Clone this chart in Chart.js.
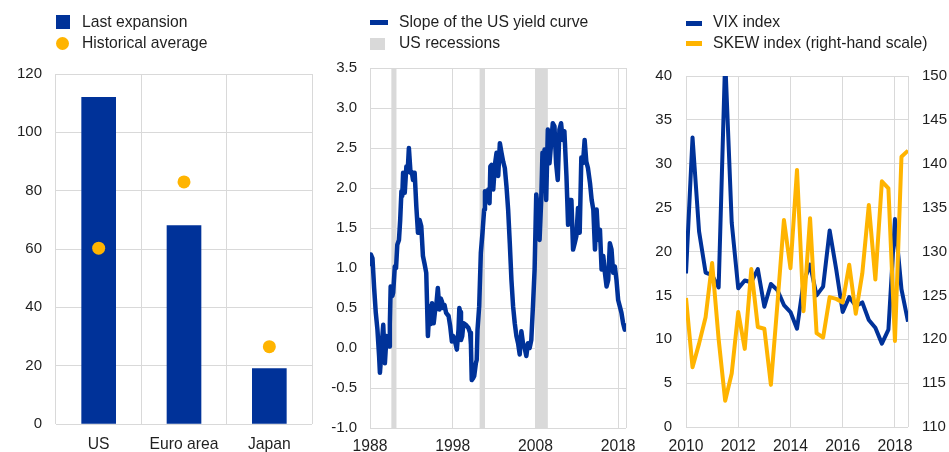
<!DOCTYPE html>
<html>
<head>
<meta charset="utf-8">
<script src="https://cdn.jsdelivr.net/npm/chart.js@4.4.0/dist/chart.umd.min.js"></script>
<style>
body{margin:0;width:949px;height:452px;background:#fff;overflow:hidden;position:relative;font-family:"Liberation Sans",Arial,sans-serif;color:#1f1f1f}
.box{position:absolute;top:0;height:452px}
.lg{position:absolute;font-size:15.7px;line-height:18px;white-space:nowrap}
.sw{position:absolute}
</style>
</head>
<body>
<div class="box" style="left:0;width:320px"><canvas id="c1" width="320" height="452"></canvas></div>
<div class="box" style="left:320px;width:320px"><canvas id="c2" width="320" height="452"></canvas></div>
<div class="box" style="left:640px;width:309px"><canvas id="c3" width="309" height="452"></canvas></div>

<div class="sw" style="left:56px;top:15px;width:14px;height:14px;background:#003299"></div>
<div class="lg" style="left:82px;top:13px">Last expansion</div>
<div class="sw" style="left:56px;top:37px;width:13px;height:13px;border-radius:50%;background:#ffb400"></div>
<div class="lg" style="left:82px;top:34px">Historical average</div>

<div class="sw" style="left:370px;top:20px;width:18px;height:5px;background:#003299"></div>
<div class="lg" style="left:399px;top:13px">Slope of the US yield curve</div>
<div class="sw" style="left:370px;top:38px;width:15px;height:12px;background:#d9d9d9"></div>
<div class="lg" style="left:399px;top:34px">US recessions</div>

<div class="sw" style="left:686px;top:21px;width:16px;height:5px;background:#003299"></div>
<div class="lg" style="left:713px;top:13px">VIX index</div>
<div class="sw" style="left:686px;top:41px;width:16px;height:5px;background:#ffb400"></div>
<div class="lg" style="left:713px;top:34px">SKEW index (right-hand scale)</div>

<script>
// left panel: length of expansions
const regions = ['US', 'Euro area', 'Japan'];
const lastExpansion = [112, 68, 19];
const historicalAvg = [60.3, 83, 26.5];

// middle panel: slope of the US yield curve
const yieldYears = [1988.0, 1988.1, 1988.3, 1988.5, 1988.7, 1988.9, 1989.1, 1989.2, 1989.35, 1989.5,
  1989.6, 1989.7, 1989.8, 1990.0, 1990.15, 1990.3, 1990.4, 1990.5, 1990.7, 1990.8,
  1991.0, 1991.15, 1991.3, 1991.5, 1991.65, 1991.8, 1991.9, 1992.0, 1992.2, 1992.4,
  1992.55, 1992.7, 1992.9, 1993.05, 1993.2, 1993.4, 1993.6, 1993.8, 1994.0, 1994.2,
  1994.4, 1994.6, 1994.8, 1995.0, 1995.2, 1995.35, 1995.5, 1995.7, 1995.85, 1996.0,
  1996.2, 1996.4, 1996.55, 1996.7, 1996.85, 1997.0, 1997.2, 1997.5, 1997.7, 1997.9,
  1998.05, 1998.2, 1998.35, 1998.5, 1998.7, 1998.8, 1998.9, 1999.0, 1999.15, 1999.3,
  1999.6, 1999.9, 2000.1, 2000.2, 2000.3, 2000.45, 2000.6, 2000.8, 2000.9, 2001.0,
  2001.2, 2001.4, 2001.6, 2001.8, 2001.9, 2002.05, 2002.2, 2002.3, 2002.45, 2002.55,
  2002.7, 2002.9, 2003.1, 2003.3, 2003.5, 2003.7, 2003.9, 2004.1, 2004.3, 2004.5,
  2004.7, 2004.9, 2005.1, 2005.3, 2005.5, 2005.7, 2005.9, 2006.1, 2006.3, 2006.5,
  2006.7, 2006.9, 2007.1, 2007.3, 2007.5, 2007.7, 2007.9, 2008.1, 2008.3, 2008.5,
  2008.7, 2008.85, 2009.0, 2009.1, 2009.3, 2009.5, 2009.7, 2009.9, 2010.1, 2010.3,
  2010.5, 2010.7, 2010.9, 2011.1, 2011.3, 2011.5, 2011.75, 2011.95, 2012.15, 2012.35,
  2012.55, 2012.75, 2012.95, 2013.15, 2013.35, 2013.55, 2013.75, 2013.95, 2014.15, 2014.35,
  2014.6, 2014.8, 2015.0, 2015.2, 2015.4, 2015.6, 2015.8, 2016.0, 2016.2, 2016.4,
  2016.6, 2016.8, 2017.0, 2017.2, 2017.4, 2017.6, 2017.8, 2018.0, 2018.2, 2018.4,
  2018.6, 2018.8, 2018.95];
const yieldSlope = [1.05, 1.17, 1.12, 0.75, 0.44, 0.23, -0.1, -0.31, -0.1, 0.15,
  0.29, 0.05, -0.19, 0.15, 0.1, 0.02, 0.3, 0.77, 0.65, 0.69,
  1.02, 1.0, 1.29, 1.35, 1.6, 1.96, 1.9, 2.19, 1.94, 2.27,
  2.2, 2.5, 2.19, 2.2, 2.1, 2.19, 1.77, 1.44, 1.6, 1.52,
  1.15, 1.05, 0.94, 0.15, 0.52, 0.3, 0.56, 0.31, 0.45, 0.52,
  0.75, 0.48, 0.62, 0.58, 0.5, 0.54, 0.44, 0.4, 0.27, 0.08,
  0.15, 0.12, 0.05, -0.02, 0.23, 0.5, 0.45, 0.1, 0.15, 0.31,
  0.29, 0.25, 0.19, 0.05, -0.4, -0.38, -0.35, -0.19, -0.15, 0.23,
  0.52, 1.19, 1.44, 1.73, 1.96, 1.95, 1.85, 1.98, 1.81, 2.27,
  2.29, 1.98, 2.29, 2.44, 2.15, 2.56, 2.44, 2.33, 2.25, 2.02,
  1.73, 1.31, 0.85, 0.52, 0.31, 0.15, 0.06, -0.08, 0.21, 0.06,
  0.0, -0.1, 0.06, 0.0, 0.1, 0.52, 0.98, 1.92, 1.73, 1.35,
  1.85, 2.44, 2.15, 2.48, 1.85, 2.73, 2.31, 2.56, 2.81, 2.77,
  2.31, 2.1, 2.73, 2.81, 2.6, 2.71, 2.15, 1.54, 1.85, 1.85,
  1.23, 1.31, 1.4, 1.75, 1.44, 2.38, 2.31, 2.6, 2.33, 2.25,
  2.06, 1.85, 1.73, 1.23, 1.73, 1.35, 1.48, 0.98, 1.15, 0.94,
  0.77, 0.85, 1.31, 1.23, 0.94, 1.02, 0.85, 0.6, 0.52, 0.44,
  0.31, 0.23, 0.28];
const recStart = [1990.58, 2001.25, 2008.0];
const recEnd = [1991.2, 2001.9, 2009.5];
const yieldTicks = [1988, 1998, 2008, 2018];

// right panel: VIX and SKEW, quarterly
const volDates = [2010, 2010.25, 2010.5, 2010.75, 2011, 2011.25, 2011.5, 2011.75,
  2012, 2012.25, 2012.5, 2012.75, 2013, 2013.25, 2013.5, 2013.75,
  2014, 2014.25, 2014.5, 2014.75, 2015, 2015.25, 2015.5, 2015.75,
  2016, 2016.25, 2016.5, 2016.75, 2017, 2017.25, 2017.5, 2017.75,
  2018, 2018.25, 2018.5];
const vix = [17.5, 33, 22.3, 17.6, 17.3, 15.9, 42, 23.3,
  15.8, 16.7, 16.5, 18.0, 13.7, 16.3, 15.6, 13.9,
  13.1, 11.2, 16.5, 18.5, 15.0, 16.0, 22.4, 18.0,
  13.1, 14.8, 13.8, 14.2, 12.2, 11.3, 9.5, 11.1,
  23.7, 15.7, 12.0];
const skew = [124.7, 116.8, 119.5, 122.5, 128.7, 120, 113, 116.1,
  123.1, 118.9, 128.0, 121.4, 121.2, 114.8, 124, 133.6,
  128.1, 139.3, 123.2, 133.8, 120.7, 120.2, 124.8, 124.6,
  124.2, 128.5, 122.9, 127.5, 135.3, 126.8, 138.0, 137.2,
  119.8, 140.8, 141.5];
const volTicks = [2010, 2012, 2014, 2016, 2018];

const blue = '#003299';
const yellow = '#ffb400';
const gridCol = '#d9d9d9';

Chart.defaults.font.family = '"Liberation Sans", Arial, sans-serif';
Chart.defaults.font.size = 15;
Chart.defaults.color = '#1f1f1f';
Chart.defaults.animation = false;
Chart.defaults.plugins.legend.display = false;
Chart.defaults.plugins.tooltip.enabled = false;

const grid = { color: gridCol, lineWidth: 1, drawTicks: false };

function toPoints(xs, ys) {
    return xs.map((x, i) => ({ x: x, y: ys[i] }));
}

// panel 1
new Chart(document.getElementById('c1'), {
    type: 'bar',
    data: {
        labels: regions,
        datasets: [{
            type: 'line',
            data: historicalAvg,
            showLine: false,
            pointRadius: 6.5,
            pointBackgroundColor: yellow,
            pointBorderWidth: 0,
            order: 0
        }, {
            data: lastExpansion,
            backgroundColor: blue,
            barThickness: 34,
            order: 1
        }]
    },
    options: {
        responsive: false,
        layout: { padding: { top: 74, right: 8, left: 0, bottom: 0 } },
        scales: {
            x: {
                grid: grid,
                border: { display: false },
                ticks: { padding: 11, font: { size: 15.7 } },
                afterFit: s => { s.height = 28; }
            },
            y: {
                min: 0, max: 120,
                grid: grid,
                border: { display: false },
                ticks: { stepSize: 20, padding: 14 },
                afterFit: s => { s.width = 56; }
            }
        }
    }
});

// recession shading
const recessionBands = {
    id: 'recessionBands',
    beforeDatasetsDraw(chart) {
        const x = chart.scales.x;
        const area = chart.chartArea;
        const ctx = chart.ctx;
        ctx.save();
        ctx.fillStyle = gridCol;
        recStart.forEach((s, i) => {
            const x0 = x.getPixelForValue(s);
            const x1 = x.getPixelForValue(recEnd[i]);
            ctx.fillRect(x0, area.top, x1 - x0, area.bottom - area.top);
        });
        ctx.restore();
    }
};

// panel 2
new Chart(document.getElementById('c2'), {
    type: 'line',
    data: {
        datasets: [{
            data: toPoints(yieldYears, yieldSlope),
            borderColor: blue,
            borderWidth: 4.5,
            pointRadius: 0,
            borderJoinStyle: 'round',
            borderCapStyle: 'round',
            tension: 0
        }]
    },
    plugins: [recessionBands],
    options: {
        responsive: false,
        layout: { padding: { top: 68, right: 14, left: 0, bottom: 0 } },
        scales: {
            x: {
                type: 'linear',
                min: 1988, max: 2018.95,
                grid: grid,
                border: { display: false },
                afterBuildTicks: s => {
                    s.ticks = yieldTicks.concat([2018.95]).map(v => ({ value: v }));
                },
                ticks: {
                    padding: 9,
                    font: { size: 15.7 },
                    callback: v => yieldTicks.includes(v) ? String(v) : ''
                },
                afterFit: s => { s.height = 24; }
            },
            y: {
                min: -1, max: 3.5,
                grid: grid,
                border: { display: false },
                ticks: { stepSize: 0.5, padding: 13, callback: v => v.toFixed(1) },
                afterFit: s => { s.width = 50; }
            }
        }
    }
});

// panel 3
new Chart(document.getElementById('c3'), {
    type: 'line',
    data: {
        datasets: [{
            data: toPoints(volDates, skew),
            yAxisID: 'y2',
            borderColor: yellow,
            borderWidth: 4,
            pointRadius: 0,
            borderJoinStyle: 'round',
            tension: 0
        }, {
            data: toPoints(volDates, vix),
            yAxisID: 'y',
            borderColor: blue,
            borderWidth: 4,
            pointRadius: 0,
            borderJoinStyle: 'round',
            tension: 0
        }]
    },
    options: {
        responsive: false,
        layout: { padding: { top: 76, right: 0, left: 0, bottom: 0 } },
        scales: {
            x: {
                type: 'linear',
                min: 2010, max: 2018.5,
                grid: grid,
                border: { display: false },
                afterBuildTicks: s => {
                    s.ticks = volTicks.concat([2018.5]).map(v => ({ value: v }));
                },
                ticks: {
                    padding: 10,
                    font: { size: 15.7 },
                    callback: v => volTicks.includes(v) ? String(v) : ''
                },
                afterFit: s => { s.height = 25; }
            },
            y: {
                position: 'left',
                min: 0, max: 40,
                grid: grid,
                border: { display: false },
                ticks: { stepSize: 5, padding: 14 },
                afterFit: s => { s.width = 46; }
            },
            y2: {
                position: 'right',
                min: 110, max: 150,
                grid: { drawOnChartArea: false, drawTicks: false },
                border: { display: false },
                ticks: { stepSize: 5, padding: 14 },
                afterFit: s => { s.width = 41; }
            }
        }
    }
});
</script>
</body>
</html>
